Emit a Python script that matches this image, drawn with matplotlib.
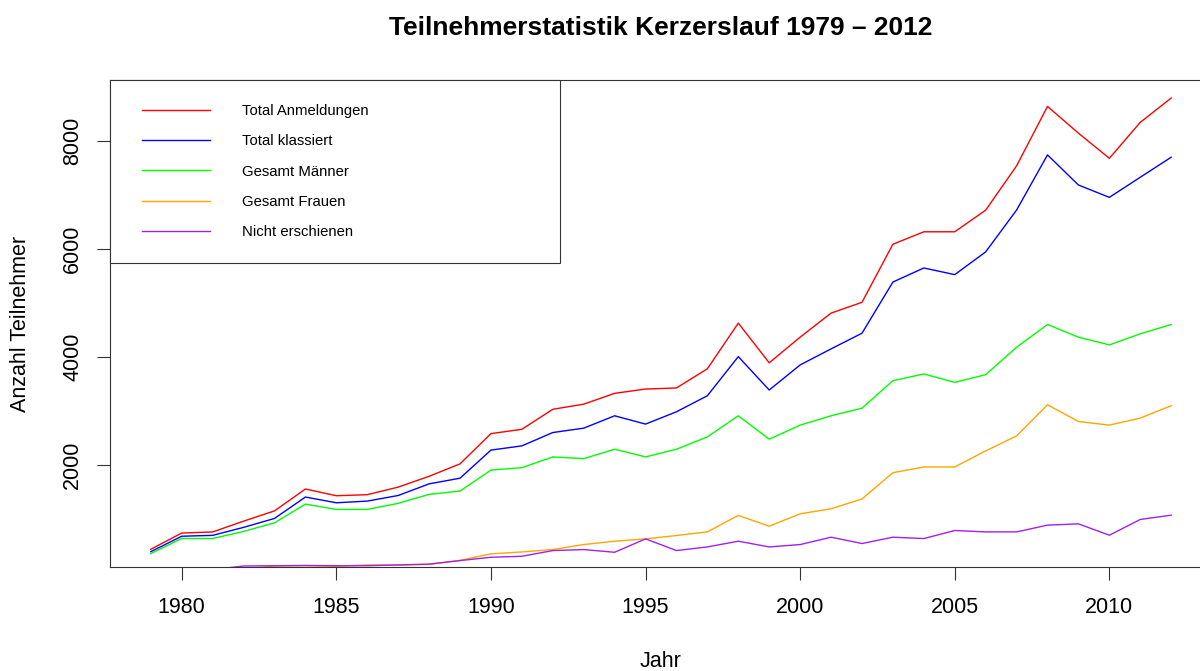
import numpy as np
import matplotlib
matplotlib.use("Agg")
import matplotlib.pyplot as plt
from matplotlib.legend_handler import HandlerLine2D

plt.rcParams['font.family'] = ['Liberation Sans', 'DejaVu Sans']

# data
years = np.arange(1979, 2013)

total_anmeldungen = [440, 740, 760, 960, 1150, 1555, 1430, 1450, 1590, 1790,
                     2020, 2580, 2660, 3030, 3125, 3325, 3405, 3425, 3780, 4625,
                     3890, 4365, 4810, 5010, 6085, 6315, 6315, 6715, 7535, 8635,
                     8140, 7675, 8340, 8790]
total_klassiert = [395, 681, 697, 845, 1010, 1406, 1300, 1331, 1435, 1650,
                   1755, 2275, 2353, 2600, 2681, 2910, 2756, 2984, 3281, 4005,
                   3387, 3851, 4148, 4438, 5385, 5645, 5522, 5943, 6717, 7738,
                   7181, 6952, 7324, 7695]
gesamt_maenner = [360, 639, 639, 770, 929, 1275, 1177, 1177, 1290, 1456,
                  1517, 1905, 1950, 2149, 2117, 2291, 2149, 2291, 2520, 2910,
                  2477, 2737, 2910, 3050, 3560, 3684, 3528, 3671, 4178, 4600,
                  4364, 4222, 4427, 4600]
gesamt_frauen = [35, 42, 58, 78, 130, 135, 125, 150, 145, 160,
                 235, 355, 390, 435, 527, 589, 632, 694, 762, 1066,
                 867, 1096, 1189, 1370, 1857, 1963, 1963, 2260, 2538, 3114,
                 2804, 2737, 2867, 3096]
nicht_erschienen = [45, 59, 63, 130, 135, 140, 135, 135, 150, 165,
                    230, 292, 310, 416, 434, 384, 632, 416, 483, 589,
                    483, 527, 663, 546, 663, 638, 787, 761, 761, 886,
                    910, 700, 991, 1071]

series = [
    ("Total Anmeldungen", total_anmeldungen, "#FF0000"),
    ("Total klassiert", total_klassiert, "#0000FF"),
    ("Gesamt Männer", gesamt_maenner, "#00FF00"),
    ("Gesamt Frauen", gesamt_frauen, "#FFA500"),
    ("Nicht erschienen", nicht_erschienen, "#A020F0"),
]

W, H = 1200, 671
fig = plt.figure(figsize=(W / 100, H / 100), dpi=100)
# plot box runs past the right edge of the picture, like the original
ax = fig.add_axes([110 / W, 1 - 567.3 / H, 1102 / W, 487.3 / H])

for label, vals, col in series:
    ax.plot(years, vals, color=col, lw=1.0, label=label)

# R style limits: range of first series plus 4 %
lo, hi = min(total_anmeldungen), max(total_anmeldungen)
pad = 0.04 * (hi - lo)
ax.set_ylim(lo - pad, hi + pad)
xpad = 0.04 * (years[-1] - years[0])
ax.set_xlim(years[0] - xpad, years[-1] + xpad)

ax.set_xticks(np.arange(1980, 2011, 5))
ax.set_yticks(np.arange(2000, 8001, 2000))
ax.tick_params(axis='both', length=9.4, width=0.8, labelsize=15.5, color='#333333')
ax.tick_params(axis='x', pad=12)
ax.tick_params(axis='y', pad=10)
for t in ax.get_yticklabels():
    t.set_rotation(90)
    t.set_va('center')

for sp in ax.spines.values():
    sp.set_color('#333333')
    sp.set_linewidth(0.8)

ax.set_xlabel("Jahr", fontsize=15.5)
ax.xaxis.set_label_coords(0.5, -0.172)
ax.set_ylabel("Anzahl Teilnehmer", fontsize=15.5)
ax.yaxis.set_label_coords(-0.0717, 0.5)

fig.text(661 / W, 1 - 28 / H, "Teilnehmerstatistik Kerzerslauf 1979 – 2012",
         ha='center', va='center', fontsize=19, fontweight='bold')

# legend box sits in the top left corner, line samples indented a bit
leg = ax.legend(loc='upper left', bbox_to_anchor=(0, 0, 450 / 1102, 1),
                mode='expand', borderaxespad=0, fontsize=10.7, frameon=True,
                fancybox=False, edgecolor='#333333', framealpha=1,
                borderpad=1.61, labelspacing=1.10, handlelength=5.15,
                handletextpad=2.15,
                handler_map={plt.Line2D: HandlerLine2D(xpad=0.57)})
leg.get_frame().set_linewidth(0.8)

fig.savefig("out.png", dpi=100)
